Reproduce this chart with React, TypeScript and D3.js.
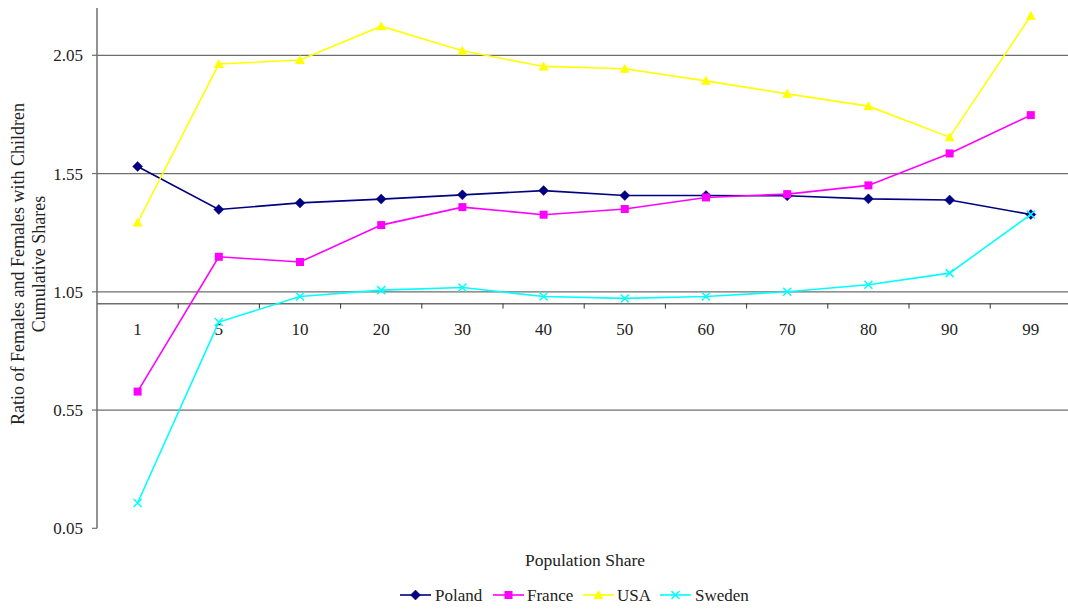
import React from "react";
import * as d3 from "d3";

const categories = ["1", "5", "10", "20", "30", "40", "50", "60", "70", "80", "90", "99"];
const poland = [1.58, 1.398, 1.426, 1.442, 1.46, 1.478, 1.457, 1.457, 1.456, 1.443, 1.438, 1.377];
const france = [0.628, 1.198, 1.176, 1.332, 1.408, 1.376, 1.4, 1.449, 1.463, 1.5, 1.635, 1.797];
const usa = [1.343, 2.013, 2.03, 2.173, 2.069, 2.003, 1.993, 1.942, 1.887, 1.835, 1.704, 2.217];
const sweden = [0.157, 0.922, 1.03, 1.057, 1.068, 1.03, 1.022, 1.03, 1.05, 1.08, 1.129, 1.377];
const yTicks = [0.05, 0.55, 1.05, 1.55, 2.05];

const seriesList = [
  { name: "Poland", values: poland, color: "#000080", marker: "diamond" },
  { name: "France", values: france, color: "#FF00FF", marker: "square" },
  { name: "USA", values: usa, color: "#FFFF00", marker: "triangle" },
  { name: "Sweden", values: sweden, color: "#00FFFF", marker: "x" },
];

const W = 1068;
const H = 610;
const left = 97;
const right = 1071.4;
const top = 8;
const bottom = 528.3;
const font = "Liberation Serif, DejaVu Serif, serif";
const fs = 17;

function Marker({ type, x, y, color }: { type: string; x: number; y: number; color: string }) {
  if (type === "diamond") {
    const s = 5;
    return <path d={`M${x},${y - s}L${x + s},${y}L${x},${y + s}L${x - s},${y}Z`} fill={color} stroke={color} strokeWidth={0.5} />;
  }
  if (type === "square") {
    const s = 4;
    return <rect x={x - s} y={y - s} width={2 * s} height={2 * s} fill={color} />;
  }
  if (type === "triangle") {
    const s = 5;
    return <path d={`M${x},${y - s}L${x + s},${y + s * 0.8}L${x - s},${y + s * 0.8}Z`} fill={color} />;
  }
  const s = 4;
  return (
    <path d={`M${x - s},${y - s}L${x + s},${y + s}M${x + s},${y - s}L${x - s},${y + s}`} stroke={color} strokeWidth={1.5} fill="none" />
  );
}

export default function App() {
  const x = d3.scaleBand<string>().domain(categories).range([left, right]).padding(0);
  const bw = x.bandwidth();
  const cx = (c: string) => (x(c) as number) + bw / 2;
  const y = d3.scaleLinear().domain([0.05, 2.25]).range([bottom, top]);
  const axisY = y(1.0);

  const line = d3
    .line<number>()
    .x((_, i) => cx(categories[i]))
    .y((v) => y(v));

  const legendItems = [
    { lx: 400, tx: 435 },
    { lx: 493, tx: 527 },
    { lx: 583, tx: 617 },
    { lx: 660, tx: 695 },
  ];

  const ts = { fontFamily: font, fontSize: fs, fill: "#222" } as React.CSSProperties;
  const tsTitle = { ...ts, fontSize: 18 } as React.CSSProperties;

  return (
    <div style={{ position: "absolute", left: 0, top: 0 }}>
      <svg width={W} height={H} style={{ display: "block", background: "#fff", fontFamily: font }}>
        {yTicks
          .filter((t) => t > 0.1)
          .map((t) => (
            <line key={"g" + t} x1={left} x2={right} y1={y(t)} y2={y(t)} stroke="#6e6e6e" strokeWidth={1.2} />
          ))}
        <line x1={left} x2={left} y1={top} y2={bottom} stroke="#6e6e6e" strokeWidth={1.5} />
        {yTicks.map((t) => (
          <g key={"yt" + t}>
            <line x1={left - 5} x2={left} y1={y(t)} y2={y(t)} stroke="#6e6e6e" strokeWidth={1.2} />
            <text x={left - 14} y={y(t)} dy="0.35em" textAnchor="end" style={ts}>
              {t.toFixed(2)}
            </text>
          </g>
        ))}
        <line x1={left} x2={right} y1={axisY} y2={axisY} stroke="#6e6e6e" strokeWidth={1.5} />
        {categories.map((c, i) =>
          i > 0 ? (
            <line key={"xt" + c} x1={x(c) as number} x2={x(c) as number} y1={axisY} y2={axisY + 5} stroke="#333" strokeWidth={1} />
          ) : null
        )}
        {categories.map((c) => (
          <text key={"xl" + c} x={cx(c)} y={335} textAnchor="middle" style={ts}>
            {c}
          </text>
        ))}
        {seriesList.map((s) => (
          <g key={s.name}>
            <path d={line(s.values) || ""} fill="none" stroke={s.color} strokeWidth={1.6} />
            {s.values.map((v, i) => (
              <Marker key={i} type={s.marker} x={cx(categories[i])} y={y(v)} color={s.color} />
            ))}
          </g>
        ))}
        <text x={585} y={566} textAnchor="middle" style={{ ...ts, fontSize: 17.5 }}>
          Population Share
        </text>
        <g transform="translate(24,264) rotate(-90)">
          <text x={0} y={0} textAnchor="middle" style={tsTitle}>
            Ratio of Females and Females with Children
          </text>
          <text x={0} y={21} textAnchor="middle" style={tsTitle}>
            Cumulative Shares
          </text>
        </g>
        {seriesList.map((s, i) => (
          <g key={"lg" + s.name}>
            <line x1={legendItems[i].lx} x2={legendItems[i].lx + 31} y1={595} y2={595} stroke={s.color} strokeWidth={1.6} />
            <Marker type={s.marker} x={legendItems[i].lx + 15.5} y={595} color={s.color} />
            <text x={legendItems[i].tx} y={595} dy="0.35em" style={ts}>
              {s.name}
            </text>
          </g>
        ))}
      </svg>
    </div>
  );
}
